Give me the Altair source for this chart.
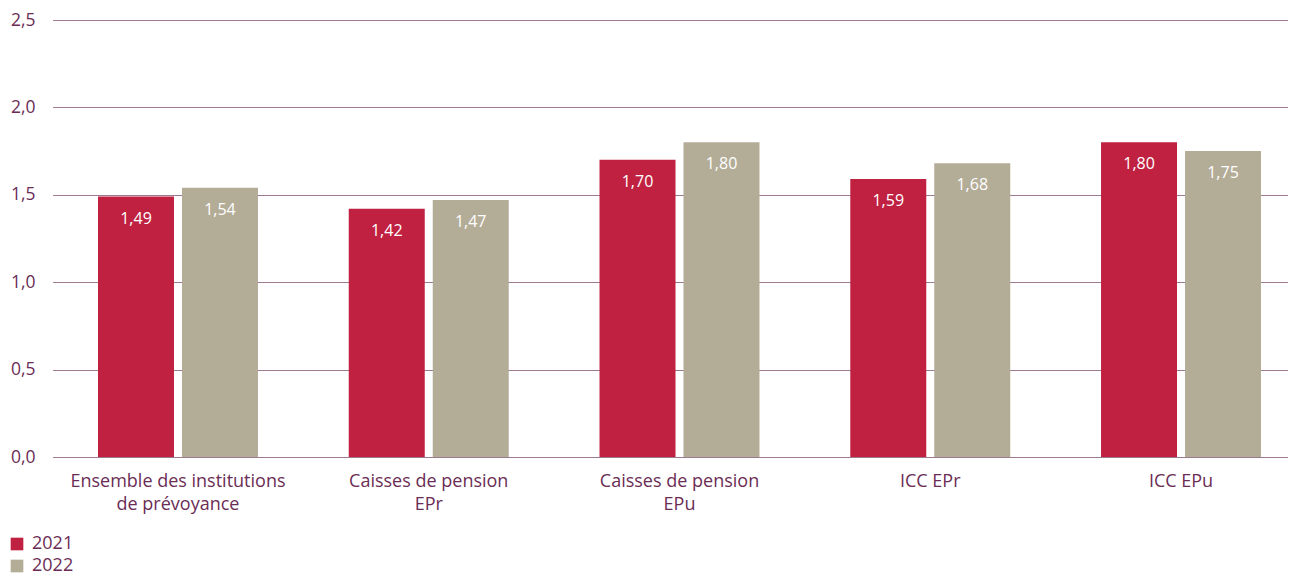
import altair as alt
import pandas as pd

categories = ["Ensemble des institutions de prévoyance", "Caisses de pension EPr",
              "Caisses de pension EPu", "ICC EPr", "ICC EPu"]
category_lines = [["Ensemble des institutions", "de prévoyance"],
                  ["Caisses de pension", "EPr"],
                  ["Caisses de pension", "EPu"],
                  ["ICC EPr"],
                  ["ICC EPu"]]
years = ["2021", "2022"]
values_2021 = [1.49, 1.42, 1.70, 1.59, 1.80]
values_2022 = [1.54, 1.47, 1.80, 1.68, 1.75]
y_ticks = [0, 0.5, 1.0, 1.5, 2.0, 2.5]

rows = []
for i, c in enumerate(categories):
    rows.append({"cat": c, "year": years[0], "v": values_2021[i]})
    rows.append({"cat": c, "year": years[1], "v": values_2022[i]})
df = pd.DataFrame(rows)

label_map = {c: "|".join(l) for c, l in zip(categories, category_lines)}
label_expr = "split(" + "{" + ",".join(
    f'"{c}": "{label_map[c]}"' for c in categories) + "}[datum.label], '|')"

FONT = "Open Sans"
TXT = "#6B2D55"
RED = "#C02141"
GREY = "#B3AC97"
GRID = "#9C7A92"

x = alt.X("cat:N", sort=categories, title=None,
          scale=alt.Scale(range=[2.6, 1256.4], paddingInner=0.362, paddingOuter=0.181),
          axis=alt.Axis(labelExpr=label_expr, labelAngle=0, labelFontSize=18,
                        labelColor=TXT, labelFont=FONT, labelPadding=15,
                        labelLineHeight=23, ticks=False, domain=False,
                        labelBaseline="top", labelLimit=0))
y = alt.Y("v:Q", title=None,
          scale=alt.Scale(domain=[0, 2.5], nice=False),
          axis=alt.Axis(values=y_ticks, labelExpr="replace(format(datum.value, '.1f'), '.', ',')",
                        labelFontSize=17.5, labelColor=TXT, labelFont=FONT,
                        labelPadding=15, ticks=False, domain=False,
                        gridColor=GRID, gridWidth=1.2, gridOpacity=1))
xo = alt.XOffset("year:N", sort=years,
                 scale=alt.Scale(paddingInner=0.095, paddingOuter=0))
color = alt.Color("year:N", sort=years,
                  scale=alt.Scale(domain=years, range=[RED, GREY]),
                  legend=alt.Legend(title=None, orient="none", legendX=-42, legendY=515,
                                    symbolType="square", symbolSize=160,
                                    symbolStrokeWidth=0, labelFontSize=18,
                                    labelColor=TXT, labelFont=FONT,
                                    rowPadding=4, labelOffset=6, padding=0))

bars = alt.Chart(df).mark_bar(size=76).encode(x=x, xOffset=xo, y=y, color=color)

texts = alt.Chart(df).transform_calculate(
    lbl="replace(format(datum.v, '.2f'), '.', ',')"
).mark_text(color="white", fontSize=16, font=FONT, baseline="middle", dy=22).encode(
    x=x, xOffset=xo, y=y, text="lbl:N")

chart = (bars + texts).properties(
    width=1238, height=437,
    autosize=alt.AutoSizeParams(type="none"),
    padding={"left": 42, "top": 12, "right": 0, "bottom": 118},
).configure_view(stroke=None).configure_axis(gridColor=GRID)

chart.save("out.html", embed_options={"renderer": "svg", "actions": False})
